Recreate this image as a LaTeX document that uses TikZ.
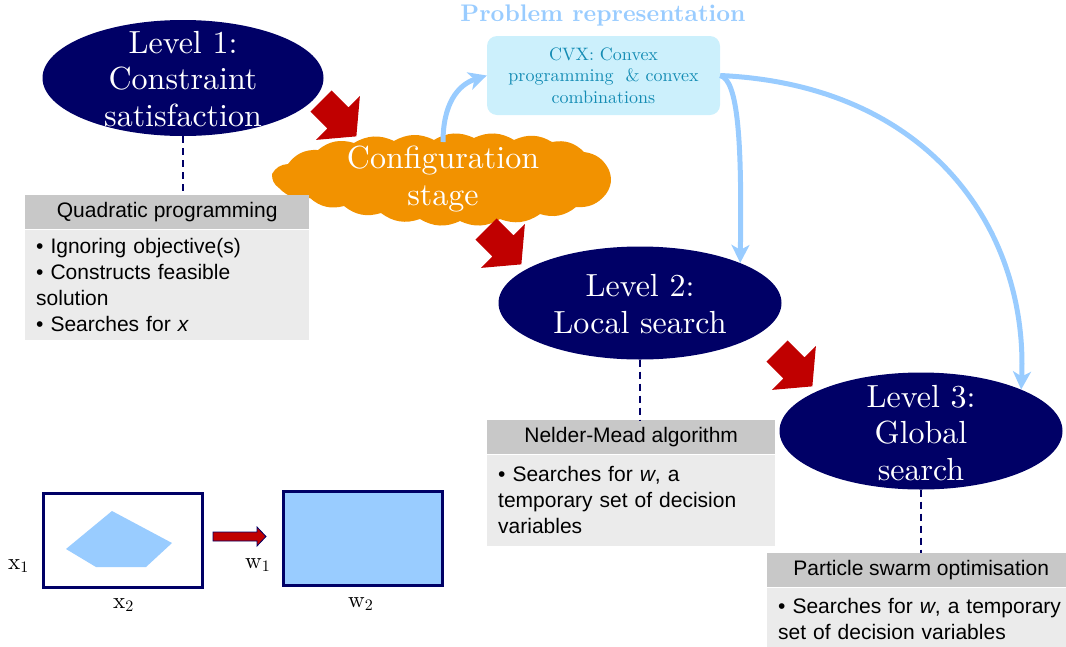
\documentclass[tikz,border=0pt]{standalone}
\usepackage{fontspec}
\newfontfamily\boxfont{Liberation Sans}
\newfontfamily\levelfont{lmroman10-regular}[Extension=.otf, BoldFont=lmroman10-bold]
\usetikzlibrary{shapes.geometric,arrows.meta}
\definecolor{navy}{RGB}{0,0,102}
\definecolor{arrowred}{RGB}{192,0,0}
\definecolor{confcol}{RGB}{242,146,0}
\definecolor{lightblue}{RGB}{153,204,255}
\definecolor{cvxfill}{RGB}{204,240,252}
\definecolor{cvxtext}{RGB}{20,140,180}
\definecolor{hdrgray}{RGB}{200,200,200}
\definecolor{bodygray}{RGB}{235,235,235}
\newcommand{\axlab}[2]{#1\raisebox{-0.35ex}{\fontsize{16}{16}\selectfont #2}}
\begin{document}
\begin{tikzpicture}[x=1pt,y=-1pt,
  level/.style={ellipse, fill=navy, inner sep=0pt},
  leveltext/.style={text=white, align=center, inner sep=0pt,
    font=\levelfont\fontsize{32}{36.5}\selectfont},
  hdr/.style={fill=hdrgray, anchor=north west, minimum height=34pt, inner sep=0pt,
    font=\boxfont\fontsize{21}{26}\selectfont},
  bodybox/.style={fill=bodygray, anchor=north west, inner xsep=11pt, inner ysep=4pt,
    align=left, font=\boxfont\fontsize{21}{26}\selectfont},
  dashline/.style={draw=navy, line width=2pt, dash pattern=on 7pt off 5pt},
  lbarrow/.style={draw=lightblue, line width=5pt,
    -{Stealth[length=18pt,width=18pt,inset=5pt]}},
  bigred/.style={fill=arrowred},
  frame/.style={draw=navy, line width=3pt, inner sep=0pt, anchor=north west},
  axislabel/.style={inner sep=0pt, anchor=base west, font=\levelfont\fontsize{23}{28}\selectfont},
  puff/.style={bend left=28}
]
\useasboundingbox (0,0) rectangle (1066,646);

% heading of the representation box
\node[text=lightblue, font=\levelfont\fontsize{24}{28}\selectfont\bfseries] (title) at (603,15) {Problem representation};

% CVX box
\node[fill=cvxfill, rounded corners=10pt, minimum width=233pt, minimum height=79pt,
  inner sep=0pt, align=center, text=cvxtext, font=\levelfont\fontsize{18}{21.5}\selectfont]
  (cvx) at (603.5,75.5) {CVX: Convex\\programming \ \& convex\\combinations};

% configuration cloud: puffs strung along an elongated outline
\fill[confcol] (288,164)
  to[puff] (318,150) to[puff] (354,143) to[puff] (394,141) to[puff] (434,140)
  to[puff] (474,138) to[puff] (514,140) to[puff] (552,142) to[puff] (584,152)
  to[puff] (609,170) to[puff] (606,194) to[puff] (576,207) to[puff] (540,214)
  to[puff] (500,219) to[puff] (460,221) to[puff] (420,219) to[puff] (381,213)
  to[puff] (344,206) to[puff] (310,198) to[puff] (279,188) to[puff] (272,174)
  to[puff] (288,164) -- cycle;
\coordinate (conftop) at (443,142);
\node[leveltext] (conft) at (443,179) {Configuration\\stage};

% level ellipses
\node[level, minimum width=281pt, minimum height=116pt] (l1) at (183,78) {};
\node[leveltext] (l1t) at (183,79) {Level 1:\\Constraint\\satisfaction};
\node[level, minimum width=283pt, minimum height=113pt] (l2) at (640,303) {};
\node[leveltext] (l2t) at (640,304) {Level 2:\\Local search};
\node[level, minimum width=283pt, minimum height=117pt] (l3) at (921,431) {};
\node[leveltext] (l3t) at (921,433) {Level 3:\\Global\\search};

% method boxes
\node[hdr, minimum width=284pt] (qph) at (25,195) {Quadratic programming};
\node[bodybox, text width=262pt, minimum height=110pt] (qpb) at (qph.south west)
  {• Ignoring objective(s)\\• Constructs feasible\\solution\\• Searches for \textit{x}};
\node[hdr, minimum width=288pt] (nmh) at (487,420) {Nelder-Mead algorithm};
\node[bodybox, text width=266pt, minimum height=91pt] (nmb) at (nmh.south west)
  {• Searches for \textit{w}, a\\temporary set of decision\\variables};
\node[hdr, minimum width=308pt] (psh) at (767,553) {Particle swarm optimisation};
\node[bodybox, text width=286pt, minimum height=62pt] (psb) at (psh.south west)
  {• Searches for \textit{w}, a temporary\\set of decision variables};

% dashed links from levels to methods
\draw[dashline] (l1.south) -- (l1.south |- qph.north);
\draw[dashline] (l2.south) -- (l2.south |- nmh.north);
\draw[dashline] (l3.south) -- (l3.south |- psh.north);

% red block arrows between stages
\foreach \p in {(321,101),(486,229),(777,351)} {
  \fill[bigred, shift={\p}, rotate=-45]
    (0,-15) -- (24,-15) -- (24,-31) -- (50,0) -- (24,31) -- (24,15) -- (0,15) -- cycle;
}

% light blue links through the representation
\draw[lbarrow] (conftop) .. controls (443,105) and (457,85) .. (cvx.west);
\draw[lbarrow] (cvx.east) .. controls (738,80) and (742,140) .. (l2.north east);
\draw[lbarrow] (cvx.east) .. controls (930,85) and (1028,230) .. (l3.north east);

% decision space and mapped space
\node[frame, fill=white, minimum width=159pt, minimum height=94pt] (xspace) at (42,492) {};
\fill[lightblue] (112,511) -- (172,543) -- (146,567) -- (96,567) -- (66,549) -- cycle;
\node[frame, fill=lightblue, minimum width=159pt, minimum height=94pt] (wspace) at (282,490) {};
\draw[fill=arrowred, draw=navy, line width=0.8pt]
  (213,532) -- (257,532) -- (257,527) -- (266,536.5) -- (257,546) -- (257,541) -- (213,541) -- cycle;
\node[axislabel] (x1) at (8,569) {\axlab{x}{1}};
\node[axislabel] (x2) at (113,608) {\axlab{x}{2}};
\node[axislabel] (w1) at (245,568) {\axlab{w}{1}};
\node[axislabel] (w2) at (348,607) {\axlab{w}{2}};
\end{tikzpicture}
\end{document}
